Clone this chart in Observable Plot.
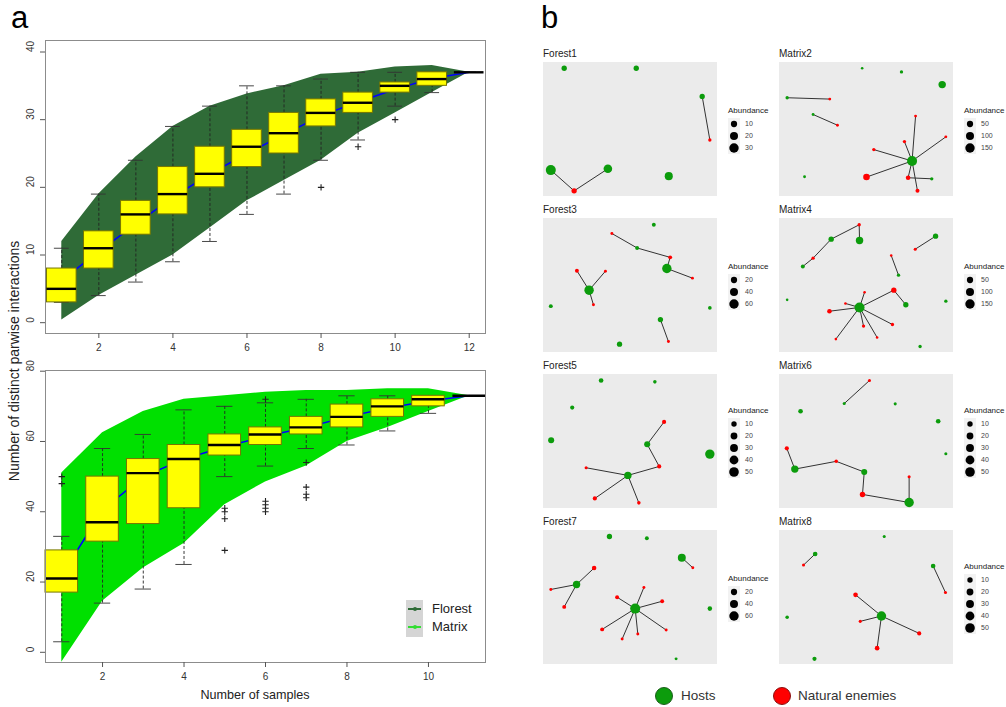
<!DOCTYPE html>
<html><head><meta charset="utf-8">
<script src="https://cdn.jsdelivr.net/npm/d3@7"></script>
<script src="https://cdn.jsdelivr.net/npm/@observablehq/plot@0.6"></script>
<style>
body{margin:0;background:#fff;font-family:"Liberation Sans",Arial,Helvetica,sans-serif;}
#root{position:relative;width:1006px;height:707px;overflow:hidden;background:#fff;}
.abs{position:absolute;}
.ntitle{position:absolute;font-size:10px;color:#222;line-height:12px;white-space:nowrap;}
.leg{position:absolute;display:flex;flex-direction:column;justify-content:center;font-size:8px;color:#222;}
.leg .row{display:flex;align-items:center;height:12px;}
.leg .key{width:12px;height:12px;background:#f2f2f2;display:flex;align-items:center;justify-content:center;}
.leg .lab{font-size:7px;color:#444;margin-left:5px;}
</style></head>
<body><div id="root"></div>
<script>
// ---------- Panel a data: Forest (top) ----------
const forestSamples = [1,2,3,4,5,6,7,8,9,10,11,12];
const forestQ1  = [3, 8, 13, 16, 20, 23, 25, 29, 31, 34, 35, 37];
const forestMed = [5, 11, 16, 19, 22, 26, 28, 31, 32.5, 35, 36, 37];
const forestQ3  = [8, 13.5, 18, 23, 26, 28.5, 31, 33, 34, 35.5, 37, 37];
const forestLo  = [3, 4, 6, 9, 12, 16, 19, 24, 27, 32, 34, 37];
const forestHi  = [11, 19, 24, 29, 32, 35, 35, 36, 37, 37, 37, 37];
const forestOutliers = [[8, 20], [9, 26], [10, 30]];
const forestUpper = [12, 19, 24.5, 29, 32, 33.8, 35, 36.7, 37, 37.8, 38, 37];
const forestLower = [0.4, 4, 7, 10, 14, 18, 21, 24, 28, 31, 34, 37];
const forestMean  = [6.3, 10.5, 14.6, 18.5, 22, 25, 27.8, 30.6, 32.6, 34.5, 36.1, 37];
const forestYTicks = [0, 10, 20, 30, 40];
const forestXTicks = [2, 4, 6, 8, 10, 12];

// ---------- Panel a data: Matrix (bottom) ----------
const matrixSamples = [1,2,3,4,5,6,7,8,9,10,11];
const matrixQ1  = [17, 31.5, 36.5, 41, 56, 59, 62, 64, 67, 70, 73];
const matrixMed = [21, 37, 51, 55, 59, 62, 64, 67, 70, 72, 73];
const matrixQ3  = [29, 50, 55, 59, 62, 64, 67, 70.5, 72, 73, 73];
const matrixLo  = [3, 14, 18, 25, 50, 53, 58, 59, 63, 68, 73];
const matrixHi  = [33, 58, 62, 69, 70, 71, 72, 73, 73, 73, 73];
const matrixOutliers = [[1, 48], [1, 50], [5, 41], [5, 40], [5, 38], [5, 29], [6, 72], [6, 43], [6, 42], [6, 41], [6, 40], [7, 54], [7, 47], [7, 45], [7, 44]];
const matrixUpper = [51, 62.5, 68.5, 72, 73, 74, 74.5, 74.5, 75, 75, 73];
const matrixLower = [-2.8, 14.5, 24, 31, 42, 48.5, 53, 60, 64, 68.5, 73];
const matrixMean  = [22, 40.5, 50, 55, 58.5, 61.5, 64, 67, 69.5, 71.5, 73];
const matrixYTicks = [0, 20, 40, 60, 80];
const matrixXTicks = [2, 4, 6, 8, 10];

const legendLabelsA = ["Florest", "Matrix"];

// ---------- Panel b data: networks [x, y, abundance, kind] ----------
const forest1Nodes = [[11.9,4.3,6,"H"],[53.3,4.3,6,"H"],[91.2,25.3,6,"H"],[95.6,57.8,1,"E"],[4.2,80.3,35,"H"],[37.0,79.3,24,"H"],[17.6,95.8,6,"E"],[72.0,84.8,20,"H"]];
const forest1Edges = [[2,3],[4,6],[6,5]];
const forest1Legend = [10,20,30];

const matrix2Nodes = [[47.5,4.3,1,"H"],[70.1,7.0,5,"H"],[93.5,16.5,80,"H"],[4.4,26.3,5,"H"],[28.9,27.3,2,"E"],[19.3,38.8,2,"H"],[33.3,46.8,2,"E"],[78.2,40.0,2,"E"],[95.6,55.5,2,"E"],[71.8,59.0,5,"E"],[54.2,65.0,5,"E"],[76.2,73.5,175,"H"],[50.0,85.5,58,"E"],[73.9,86.0,18,"E"],[87.5,86.8,5,"H"],[79.3,95.8,11,"E"],[14.4,85.3,2,"H"]];
const matrix2Edges = [[3,4],[5,6],[11,7],[11,8],[11,9],[11,10],[11,12],[11,13],[11,15],[13,14]];
const matrix2Legend = [50,100,150];

const forest3Nodes = [[63.4,4.7,4,"H"],[39.3,11.2,1,"E"],[53.8,22.0,4,"H"],[72.8,29.0,4,"E"],[70.9,37.3,60,"H"],[85.6,44.5,1,"E"],[19.2,39.0,4,"E"],[35.6,39.3,1,"E"],[26.2,53.5,60,"H"],[28.7,64.4,1,"E"],[4.2,65.4,4,"H"],[95.6,66.7,3,"H"],[67.2,75.4,12,"H"],[71.8,91.8,1,"E"],[43.7,93.8,12,"H"]];
const forest3Edges = [[1,2],[2,3],[3,4],[4,5],[6,8],[7,8],[8,9],[12,13]];
const forest3Legend = [20,40,60];

const matrix4Nodes = [[45.8,4.7,5,"E"],[46.0,16.4,80,"H"],[29.7,15.4,31,"H"],[19.3,29.6,5,"E"],[13.4,35.8,11,"H"],[89.7,13.2,31,"H"],[78.0,22.9,3,"E"],[64.2,27.6,1,"E"],[68.4,42.3,5,"H"],[65.7,53.5,31,"E"],[72.6,64.4,31,"H"],[46.0,66.4,175,"H"],[48.9,55.0,1,"E"],[37.9,63.4,1,"E"],[28.7,69.2,18,"E"],[48.3,80.3,5,"E"],[64.9,79.1,5,"E"],[56.1,88.8,1,"E"],[32.4,90.0,1,"E"],[4.4,60.7,1,"H"],[95.6,61.7,5,"H"],[80.8,95.5,5,"H"]];
const matrix4Edges = [[4,3],[3,2],[2,0],[0,1],[6,5],[7,8],[9,10],[9,11],[11,12],[11,13],[11,14],[11,15],[11,16],[11,17],[11,18]];
const matrix4Legend = [50,100,150];

const forest5Nodes = [[33.1,4.5,6,"H"],[64.0,5.5,2,"H"],[16.5,24.7,4,"H"],[4.4,49.1,14,"H"],[95.6,59.4,47,"H"],[69.3,35.4,4,"E"],[59.6,52.1,14,"H"],[66.5,68.6,4,"E"],[48.5,75.3,25,"H"],[24.5,69.6,1,"E"],[29.5,92.5,4,"E"],[54.8,95.8,2,"E"]];
const forest5Edges = [[5,6],[6,7],[7,8],[9,8],[8,10],[8,11]];
const forest5Legend = [10,20,30,40,50];

const matrix6Nodes = [[51.7,4.5,1,"E"],[37.2,21.7,1,"H"],[66.5,21.9,1,"H"],[12.1,27.4,6,"H"],[91.2,34.9,6,"H"],[95.6,59.1,1,"H"],[4.2,55.1,4,"E"],[8.8,70.6,25,"H"],[32.6,64.8,2,"E"],[48.7,72.8,14,"H"],[47.7,89.5,10,"E"],[74.5,95.5,47,"H"],[74.5,76.3,1,"E"]];
const matrix6Edges = [[0,1],[6,7],[7,8],[8,9],[9,10],[10,11],[12,11]];
const matrix6Legend = [10,20,30,40,50];

const forest7Nodes = [[37.9,4.5,12,"H"],[59.4,5.8,4,"H"],[79.5,20.3,39,"H"],[85.8,27.8,1,"E"],[29.1,28.0,7,"E"],[19.0,40.3,32,"H"],[4.2,44.0,1,"E"],[11.9,57.0,4,"E"],[95.6,58.3,7,"H"],[52.7,58.3,70,"H"],[57.7,42.5,1,"E"],[42.3,49.8,4,"E"],[68.2,52.8,4,"E"],[33.7,73.8,4,"E"],[70.5,74.3,1,"E"],[54.2,77.3,1,"E"],[45.2,81.0,1,"E"],[76.2,95.8,1,"H"]];
const forest7Edges = [[2,3],[4,5],[6,5],[5,7],[9,10],[9,11],[9,12],[9,13],[9,14],[9,15],[9,16]];
const forest7Legend = [20,40,60];

const matrix8Nodes = [[60.2,4.5,1,"H"],[20.5,17.5,6,"H"],[13.8,25.8,1,"E"],[88.3,26.5,6,"H"],[95.4,46.3,1,"E"],[43.7,48.0,6,"E"],[58.6,63.8,47,"H"],[46.4,67.8,1,"E"],[80.3,76.8,4,"E"],[56.1,87.8,6,"E"],[4.4,64.8,2,"H"],[20.1,95.8,4,"H"]];
const matrix8Edges = [[1,2],[3,4],[5,6],[7,6],[6,8],[6,9]];
const matrix8Legend = [10,20,30,40,50];

const nodeLegendLabels = ["Hosts", "Natural enemies"];

// ---------- colours ----------
const FOREST_FILL = "#2f6b37";
const MATRIX_FILL = "#00e000";
const BOX_FILL = "#ffff00";
const BOX_STROKE = "#767600";
const HOST = "#0c9c0c";
const ENEMY = "#ff0000";

const root = document.getElementById("root");
function addDiv(html, style, cls) {
  const d = document.createElement("div");
  d.className = cls || "abs";
  d.innerHTML = html;
  Object.assign(d.style, style);
  root.appendChild(d);
  return d;
}

function boxPanel(cfg) {
  const boxes = cfg.xs.map((x, i) => ({x, q1: cfg.q1[i], med: cfg.med[i], q3: cfg.q3[i], lo: cfg.lo[i], hi: cfg.hi[i], upper: cfg.upper[i], lower: cfg.lower[i], mean: cfg.mean[i]}));
  const outs = cfg.outs.map(([x, y]) => ({x, y}));
  const hw = 0.4, cw = 0.2;
  const p = Plot.plot({
    width: 500, height: cfg.height,
    marginLeft: 45, marginRight: 15, marginTop: cfg.marginTop, marginBottom: cfg.marginBottom,
    x: {domain: cfg.xDomain, axis: null},
    y: {domain: cfg.yDomain, axis: null},
    style: {fontFamily: '"Liberation Sans", Arial, sans-serif', fontSize: "10px", color: "#333", background: "transparent", overflow: "visible"},
    marks: [
      Plot.areaY(boxes, {x: "x", y1: "lower", y2: "upper", fill: cfg.fill}),
      Plot.line(boxes, {x: "x", y: "mean", stroke: "#0000ff", strokeWidth: 1.5}),
      Plot.ruleX(boxes, {x: "x", y1: "q3", y2: "hi", stroke: "#222", strokeDasharray: "3,2", strokeWidth: 0.9}),
      Plot.ruleX(boxes, {x: "x", y1: "lo", y2: "q1", stroke: "#222", strokeDasharray: "3,2", strokeWidth: 0.9}),
      Plot.ruleY(boxes, {y: "hi", x1: d => d.x - cw, x2: d => d.x + cw, stroke: "#333", strokeWidth: 0.9}),
      Plot.ruleY(boxes, {y: "lo", x1: d => d.x - cw, x2: d => d.x + cw, stroke: "#333", strokeWidth: 0.9}),
      Plot.rect(boxes, {x1: d => d.x - hw, x2: d => d.x + hw, y1: "q1", y2: "q3", fill: BOX_FILL, stroke: BOX_STROKE, strokeWidth: 1}),
      Plot.ruleY(boxes, {y: "med", x1: d => d.x - hw, x2: d => d.x + hw, stroke: "#000", strokeWidth: 2.4}),
      Plot.dot(outs, {x: "x", y: "y", symbol: "plus", r: 2.2, stroke: "#222", strokeWidth: 1.1}),
      Plot.frame({stroke: "#8c8c8c", strokeWidth: 1}),
      Plot.axisX({ticks: cfg.xTicks, tickSize: 5, tickPadding: 5, stroke: "#555", fill: "#333", label: null, fontSize: 10}),
      Plot.axisY({ticks: cfg.yTicks, tickSize: 5, stroke: "#555", fill: "none", label: null}),
      Plot.text(cfg.yTicks, {y: d => d, text: d => String(d), frameAnchor: "left", dx: -15, rotate: -90, fill: "#333", fontSize: 10})
    ]
  });
  p.style.position = "absolute";
  p.style.left = "0px";
  p.style.top = cfg.top + "px";
  root.appendChild(p);
}

boxPanel({xs: forestSamples, q1: forestQ1, med: forestMed, q3: forestQ3, lo: forestLo, hi: forestHi, outs: forestOutliers,
  upper: forestUpper, lower: forestLower, mean: forestMean, fill: FOREST_FILL,
  xDomain: [0.56, 12.44], yDomain: [-1.6, 41.7], xTicks: forestXTicks, yTicks: forestYTicks,
  top: 0, height: 362, marginTop: 40, marginBottom: 29});

boxPanel({xs: matrixSamples, q1: matrixQ1, med: matrixMed, q3: matrixQ3, lo: matrixLo, hi: matrixHi, outs: matrixOutliers,
  upper: matrixUpper, lower: matrixLower, mean: matrixMean, fill: MATRIX_FILL,
  xDomain: [0.6, 11.4], yDomain: [-2.9, 80.2], xTicks: matrixXTicks, yTicks: matrixYTicks,
  top: 350, height: 357, marginTop: 20, marginBottom: 45});

// panel a labels
addDiv("a", {left: "11px", top: "1px", fontSize: "31px", lineHeight: "34px", color: "#000"});
addDiv("b", {left: "541px", top: "1px", fontSize: "31px", lineHeight: "34px", color: "#000"});
addDiv("Number of distinct parwise interactions", {left: "13.5px", top: "361px", fontSize: "14px", color: "#222", whiteSpace: "nowrap", transform: "translate(-50%,-50%) rotate(-90deg)"});
addDiv("Number of samples", {left: "255px", top: "695px", fontSize: "12.6px", color: "#222", whiteSpace: "nowrap", transform: "translate(-50%,-50%)"});

// panel a legend
addDiv("", {left: "406px", top: "600px", width: "17px", height: "37px", background: "#d5d5d5"});
[[FOREST_FILL, 609], ["#33dd33", 627]].forEach(([c, y], i) => {
  addDiv("", {left: "408px", top: (y - 1) + "px", width: "13px", height: "2px", background: c});
  addDiv("", {left: "412.5px", top: (y - 2) + "px", width: "4px", height: "4px", borderRadius: "50%", background: c});
  addDiv(legendLabelsA[i], {left: "432px", top: (y - 8) + "px", fontSize: "13px", lineHeight: "16px", color: "#222"});
});

// ---------- panel b networks ----------
function network(title, nodes, edges, legendVals, maxAb, left, legLeft, top) {
  const rOpts = {type: "sqrt", domain: [0, maxAb], range: [1, 5]};
  const N = nodes.map(([x, y, ab, k]) => ({x, y, ab, k}));
  const L = edges.map(([a, b]) => ({a: N[a], b: N[b]}));
  const p = Plot.plot({
    width: 174, height: 134, margin: 0,
    x: {domain: [0, 100], axis: null},
    y: {domain: [0, 100], reverse: true, axis: null},
    r: rOpts,
    style: {background: "#ebebeb"},
    marks: [
      Plot.link(L, {x1: d => d.a.x, y1: d => d.a.y, x2: d => d.b.x, y2: d => d.b.y, stroke: "#333", strokeWidth: 1}),
      Plot.dot(N, {filter: d => d.k === "H", x: "x", y: "y", r: "ab", fill: HOST}),
      Plot.dot(N, {filter: d => d.k === "E", x: "x", y: "y", r: "ab", fill: ENEMY})
    ]
  });
  p.style.position = "absolute";
  p.style.left = left + "px";
  p.style.top = top + "px";
  root.appendChild(p);
  addDiv(title, {left: left + "px", top: (top - 14) + "px"}, "ntitle");
  const rs = Plot.scale({r: rOpts});
  let html = '<div style="height:13px;line-height:11px;white-space:nowrap">Abundance</div>';
  legendVals.forEach(v => {
    const r = rs.apply(v);
    html += `<div class="row"><div class="key"><svg width="12" height="12"><circle cx="6" cy="6" r="${r}" fill="#000"/></svg></div><span class="lab">${v}</span></div>`;
  });
  addDiv(html, {left: legLeft + "px", top: top + "px", height: "134px"}, "leg");
}

const colLeft = [543, 779], legLeftCol = [728, 964], rowTop = [62, 218, 374, 530];
network("Forest1", forest1Nodes, forest1Edges, forest1Legend, 35, colLeft[0], legLeftCol[0], rowTop[0]);
network("Matrix2", matrix2Nodes, matrix2Edges, matrix2Legend, 175, colLeft[1], legLeftCol[1], rowTop[0]);
network("Forest3", forest3Nodes, forest3Edges, forest3Legend, 70, colLeft[0], legLeftCol[0], rowTop[1]);
network("Matrix4", matrix4Nodes, matrix4Edges, matrix4Legend, 175, colLeft[1], legLeftCol[1], rowTop[1]);
network("Forest5", forest5Nodes, forest5Edges, forest5Legend, 55, colLeft[0], legLeftCol[0], rowTop[2]);
network("Matrix6", matrix6Nodes, matrix6Edges, matrix6Legend, 55, colLeft[1], legLeftCol[1], rowTop[2]);
network("Forest7", forest7Nodes, forest7Edges, forest7Legend, 70, colLeft[0], legLeftCol[0], rowTop[3]);
network("Matrix8", matrix8Nodes, matrix8Edges, matrix8Legend, 55, colLeft[1], legLeftCol[1], rowTop[3]);

// bottom legend
[[HOST, "#1d5e1d", 664, 681], [ENEMY, "#8a1010", 782, 798]].forEach(([c, b, cx, tx], i) => {
  addDiv("", {left: (cx - 9) + "px", top: "687px", width: "16px", height: "16px", borderRadius: "50%", background: c, border: "1px solid " + b});
  addDiv(nodeLegendLabels[i], {left: tx + "px", top: "687px", fontSize: "13.5px", lineHeight: "18px", color: "#333", whiteSpace: "nowrap"});
});
</script>
</body></html>
